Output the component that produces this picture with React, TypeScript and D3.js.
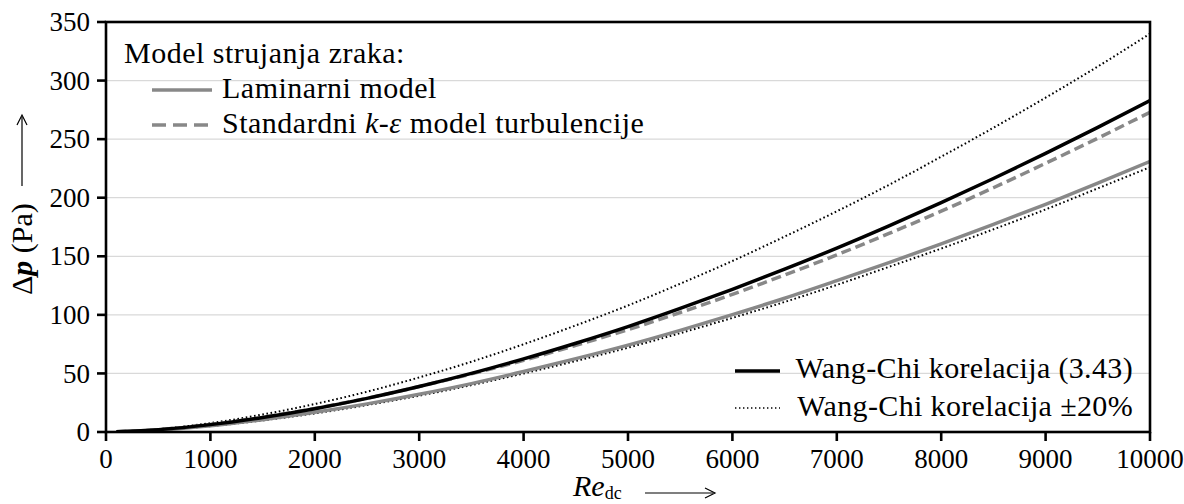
import * as d3 from "d3";

// ── Data ──────────────────────────────────────────────────────────────────────

const re = [100, 500, 1000, 1500, 2000, 2500, 3000, 3500, 4000, 4500, 5000, 5500, 6000, 6500, 7000, 7500, 8000, 8500, 9000, 9500, 10000];

// Wang-Chi correlation (3.43)
const wangChi = [0.2, 2.0, 6.3, 12.4, 19.9, 28.7, 38.8, 50, 62.4, 75.8, 90, 105.5, 121.8, 139, 157, 176, 195.8, 216.4, 237.8, 260, 283];
// Wang-Chi +20 %
const wangChiHi = [0.24, 2.4, 7.6, 14.9, 23.9, 34.4, 46.6, 60, 74.9, 91, 108, 126.6, 146, 166.8, 188.4, 211, 235, 259.7, 285.4, 312, 340];
// Wang-Chi -20 %
const wangChiLo = [0.16, 1.6, 5.0, 9.9, 15.9, 23, 31, 40, 50, 60.6, 72, 84.4, 97.4, 111, 125.6, 141, 156.6, 173, 190, 208, 226];
// CFD: laminar model
const laminar = [0.18, 1.7, 5.3, 10.5, 16.8, 24, 32.2, 41.3, 51.6, 62.6, 74.2, 86.8, 100.2, 114.2, 129.2, 144.6, 160.6, 177.2, 194.4, 212.4, 231];
// CFD: standard k-epsilon model
const kEps = [0.2, 2.0, 6.4, 12.5, 20.1, 28.8, 38.8, 49.6, 61.2, 74, 87.4, 102, 117.5, 134, 151.2, 169.5, 188.5, 208.5, 229.4, 250.8, 273];

const xTicks = [0, 1000, 2000, 3000, 4000, 5000, 6000, 7000, 8000, 9000, 10000];
const yTicks = [0, 50, 100, 150, 200, 250, 300, 350];

// ── Layout ────────────────────────────────────────────────────────────────────

const W = 1184;
const H = 504;
const PLOT = { left: 106, right: 1150, top: 22, bottom: 432 };
const FONT = '"Liberation Serif", "DejaVu Serif", "Times New Roman", serif';
const FS_TICK = 27;
const FS_TEXT = 30;
const LS = 0.5; // letter spacing for legend text (Times is narrower than CM)

const x = d3.scaleLinear().domain([0, 10000]).range([PLOT.left, PLOT.right]);
const y = d3.scaleLinear().domain([0, 350]).range([PLOT.bottom, PLOT.top]);

const line = (vals: number[]) =>
  d3
    .line<number>()
    .x((_, i) => x(re[i]))
    .y((v) => y(v))
    .curve(d3.curveMonotoneX)(vals) ?? "";

const series = [
  { vals: wangChiHi, stroke: "#000", width: 2, dash: "1.6,2.6" },
  { vals: wangChiLo, stroke: "#000", width: 2, dash: "1.6,2.6" },
  { vals: laminar, stroke: "#888", width: 3.5, dash: undefined },
  { vals: kEps, stroke: "#888", width: 3.5, dash: "10,5" },
  { vals: wangChi, stroke: "#000", width: 3.5, dash: undefined },
];

export default function App() {
  return (
    <svg
      width={W}
      height={H}
      style={{ position: "absolute", left: 0, top: 0, background: "#fff", fontFamily: FONT, fontSize: FS_TICK }}
    >
      <defs>
        <clipPath id="plot-clip">
          <rect x={PLOT.left} y={PLOT.top} width={PLOT.right - PLOT.left} height={PLOT.bottom - PLOT.top} />
        </clipPath>
      </defs>

      {/* Grid */}
      {yTicks
        .filter((t) => t > 0 && t < 350)
        .map((t) => (
          <line key={t} x1={PLOT.left} x2={PLOT.right} y1={y(t)} y2={y(t)} stroke="#d9d9d9" strokeWidth={1.2} />
        ))}

      {/* Curves */}
      <g clipPath="url(#plot-clip)">
        {series.map((s, i) => (
          <path key={i} d={line(s.vals)} fill="none" stroke={s.stroke} strokeWidth={s.width} strokeDasharray={s.dash} />
        ))}
      </g>

      {/* Frame */}
      <rect
        x={PLOT.left}
        y={PLOT.top}
        width={PLOT.right - PLOT.left}
        height={PLOT.bottom - PLOT.top}
        fill="none"
        stroke="#000"
        strokeWidth={2.6}
      />

      {/* X ticks */}
      {xTicks.map((t) => (
        <g key={t}>
          <line x1={x(t)} x2={x(t)} y1={PLOT.bottom} y2={PLOT.bottom + 9} stroke="#000" strokeWidth={2.6} />
          <text x={x(t)} y={468} textAnchor="middle">
            {t}
          </text>
        </g>
      ))}

      {/* Y ticks */}
      {yTicks.map((t) => (
        <g key={t}>
          <line x1={PLOT.left - 9} x2={PLOT.left} y1={y(t)} y2={y(t)} stroke="#000" strokeWidth={2.6} />
          <text x={90} y={y(t)} dy="0.34em" textAnchor="end">
            {t}
          </text>
        </g>
      ))}

      {/* X axis label */}
      <text x={573} y={496} fontSize={FS_TEXT}>
        <tspan fontStyle="italic">Re</tspan>
        <tspan fontSize={18} dy={3}>dc</tspan>
      </text>
      <line x1={645} x2={713} y1={493} y2={493} stroke="#000" strokeWidth={1.2} />
      <path d="M705,488 L715,493 L705,498" fill="none" stroke="#000" strokeWidth={1.2} />

      {/* Y axis label */}
      <g transform="translate(32,295) rotate(-90)">
        <text x={0} y={0} fontSize={FS_TEXT}>
          <tspan>Δ</tspan>
          <tspan fontStyle="italic" fontWeight="bold">p</tspan>
          <tspan> (Pa)</tspan>
        </text>
        <line x1={109} x2={178} y1={-10} y2={-10} stroke="#000" strokeWidth={1.2} />
        <path d="M170,-15 L180,-10 L170,-5" fill="none" stroke="#000" strokeWidth={1.2} />
      </g>

      {/* Upper-left legend */}
      <g fontSize={FS_TEXT} letterSpacing={LS}>
        <text x={124} y={63}>Model strujanja zraka:</text>
        <line x1={152} x2={212} y1={90} y2={90} stroke="#888" strokeWidth={3.5} />
        <text x={222} y={98}>Laminarni model</text>
        <line x1={152} x2={212} y1={125} y2={125} stroke="#888" strokeWidth={3.5} strokeDasharray="14,7" />
        <text x={222} y={133}>
          Standardni <tspan fontStyle="italic">k</tspan>-<tspan fontStyle="italic">ε</tspan> model turbulencije
        </text>
      </g>

      {/* Lower-right legend */}
      <g fontSize={FS_TEXT} letterSpacing={0.35}>
        <line x1={735} x2={780} y1={371} y2={371} stroke="#000" strokeWidth={3.5} />
        <text x={1133} y={378} textAnchor="end">Wang-Chi korelacija (3.43)</text>
        <line x1={735} x2={780} y1={408} y2={408} stroke="#000" strokeWidth={1.6} strokeDasharray="1.4,2.6" />
        <text x={1133} y={416} textAnchor="end">Wang-Chi korelacija ±20%</text>
      </g>
    </svg>
  );
}
